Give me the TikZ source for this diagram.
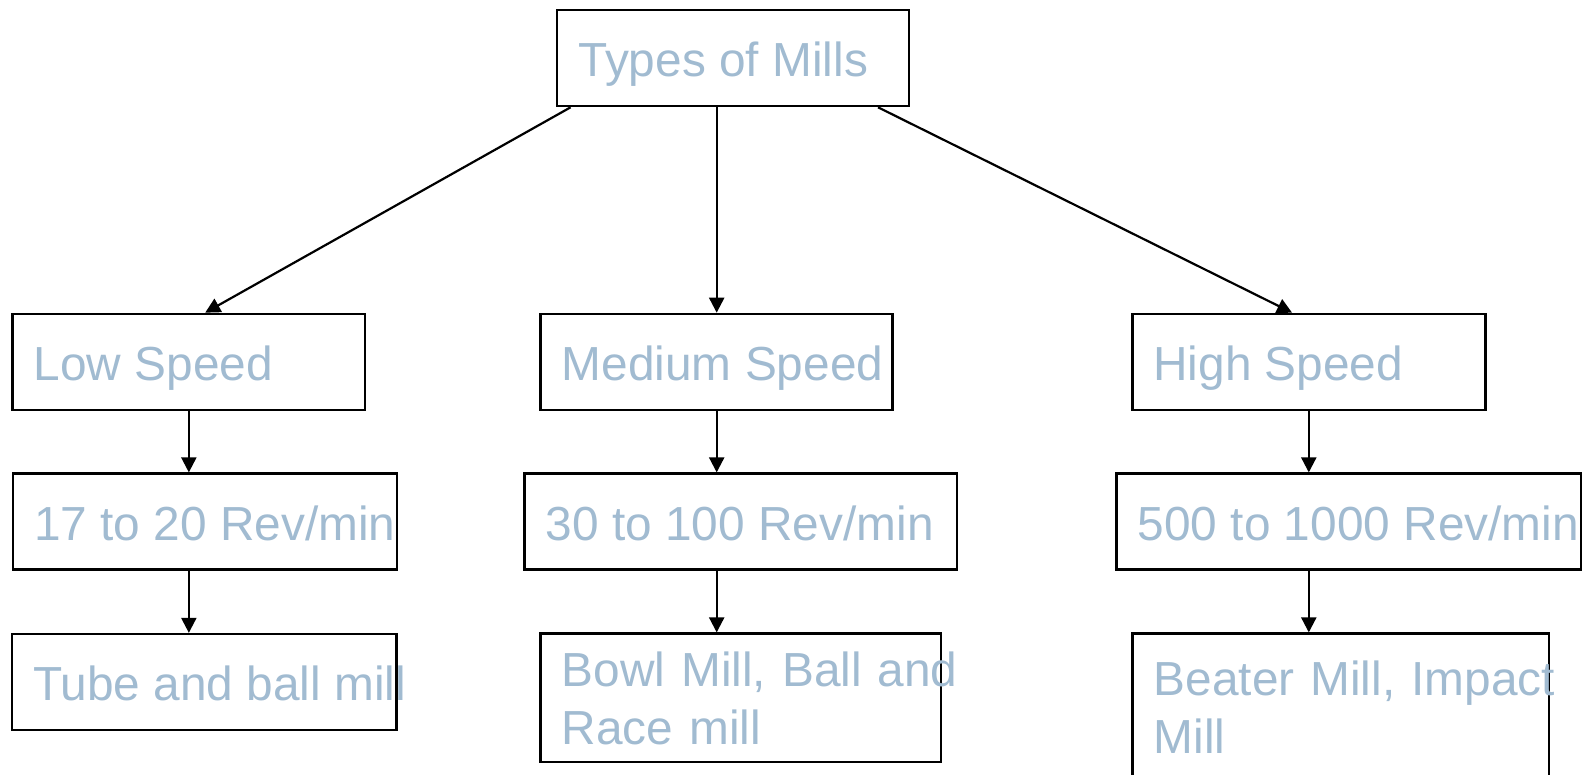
\documentclass[tikz,border=0pt]{standalone}
\usepackage{fontspec}
\setmainfont{Liberation Sans}
\usetikzlibrary{arrows.meta,calc}
\definecolor{labelblue}{RGB}{161,187,209}
\tikzset{
  box/.style={draw=black, line width=1.3pt, fill=white, rectangle, inner sep=0pt},
  lbl/.style={text=labelblue, inner sep=0pt, anchor=base west,
    font=\fontsize{23.9pt}{29.15pt}\selectfont},
  lbl2/.style={lbl, text width=320pt, align=left},
  link/.style={line width=1.1pt, -{Triangle[length=7.5pt,width=7.5pt]}}
}
\begin{document}
\begin{tikzpicture}[x=0.5pt, y=-0.5pt]
\useasboundingbox (0,0) rectangle (1587,775);

% boxes (centres in px, sizes in pt)
\node[box, minimum width=176pt, minimum height=48pt] (top) at (733,58) {};
\node[box, minimum width=176.15pt, minimum height=48pt] (low) at (188.85,362) {};
\node[box, minimum width=176pt, minimum height=48pt] (med) at (716.7,362) {};
\node[box, minimum width=176.5pt, minimum height=48pt] (high) at (1308.8,362) {};
\node[box, minimum width=192pt, minimum height=47.8pt] (lowrev) at (205,521.5) {};
\node[box, minimum width=216.15pt, minimum height=47.8pt] (medrev) at (740.85,521.5) {};
\node[box, minimum width=232.15pt, minimum height=47.8pt] (highrev) at (1348.85,521.5) {};
\node[box, minimum width=192.35pt, minimum height=47.85pt] (lowmill) at (204.35,682) {};
\node[box, minimum width=200.15pt, minimum height=64.15pt] (medmill) at (740.85,697.85) {};
\node[box, minimum width=208.15pt, minimum height=78.3pt] (highmill) at (1340.85,712) {};

% labels
\node[lbl] (ttop) at ([shift={(11.2pt,-9.3pt)}]top.west) {Types of Mills};
\node[lbl] (tlow) at ([shift={(11pt,-9.3pt)}]low.west) {Low Speed};
\node[lbl] (tmed) at ([shift={(11pt,-9.3pt)}]med.west) {Medium Speed};
\node[lbl] (thigh) at ([shift={(11pt,-9.3pt)}]high.west) {High Speed};
\node[lbl] (tlowrev) at ([shift={(11pt,-9.6pt)}]lowrev.west) {17 to 20 Rev/min};
\node[lbl] (tmedrev) at ([shift={(11pt,-9.6pt)}]medrev.west) {30 to 100 Rev/min};
\node[lbl] (thighrev) at ([shift={(11pt,-9.6pt)}]highrev.west) {500 to 1000 Rev/min};
\node[lbl] (tlowmill) at ([shift={(11pt,-9.3pt)}]lowmill.west) {Tube and ball mill};
\node[lbl2] (tmedmill) at ([shift={(11pt,-26.9pt)}]medmill.north west) {Bowl Mill, Ball and\\Race mill};
\node[lbl2] (thighmill) at ([shift={(11pt,-31.4pt)}]highmill.north west) {Beater Mill, Impact\\Mill};

% connectors
\draw[link] ($(top.south west)!0.042!(top.south east)$) -- ($(low.north west)!0.546!(low.north east)$);
\draw[link] (med.north |- top.south) -- (med.north);
\draw[link] ($(top.south west)!0.909!(top.south east)$) -- ($(high.north west)!0.453!(high.north east)$);

\draw[link] (low.south) -- (low.south |- lowrev.north);
\draw[link] (low.south |- lowrev.south) -- (low.south |- lowmill.north);
\draw[link] (med.south) -- (med.south |- medrev.north);
\draw[link] (med.south |- medrev.south) -- (med.south |- medmill.north);
\draw[link] (high.south) -- (high.south |- highrev.north);
\draw[link] (high.south |- highrev.south) -- (high.south |- highmill.north);
\end{tikzpicture}
\end{document}
